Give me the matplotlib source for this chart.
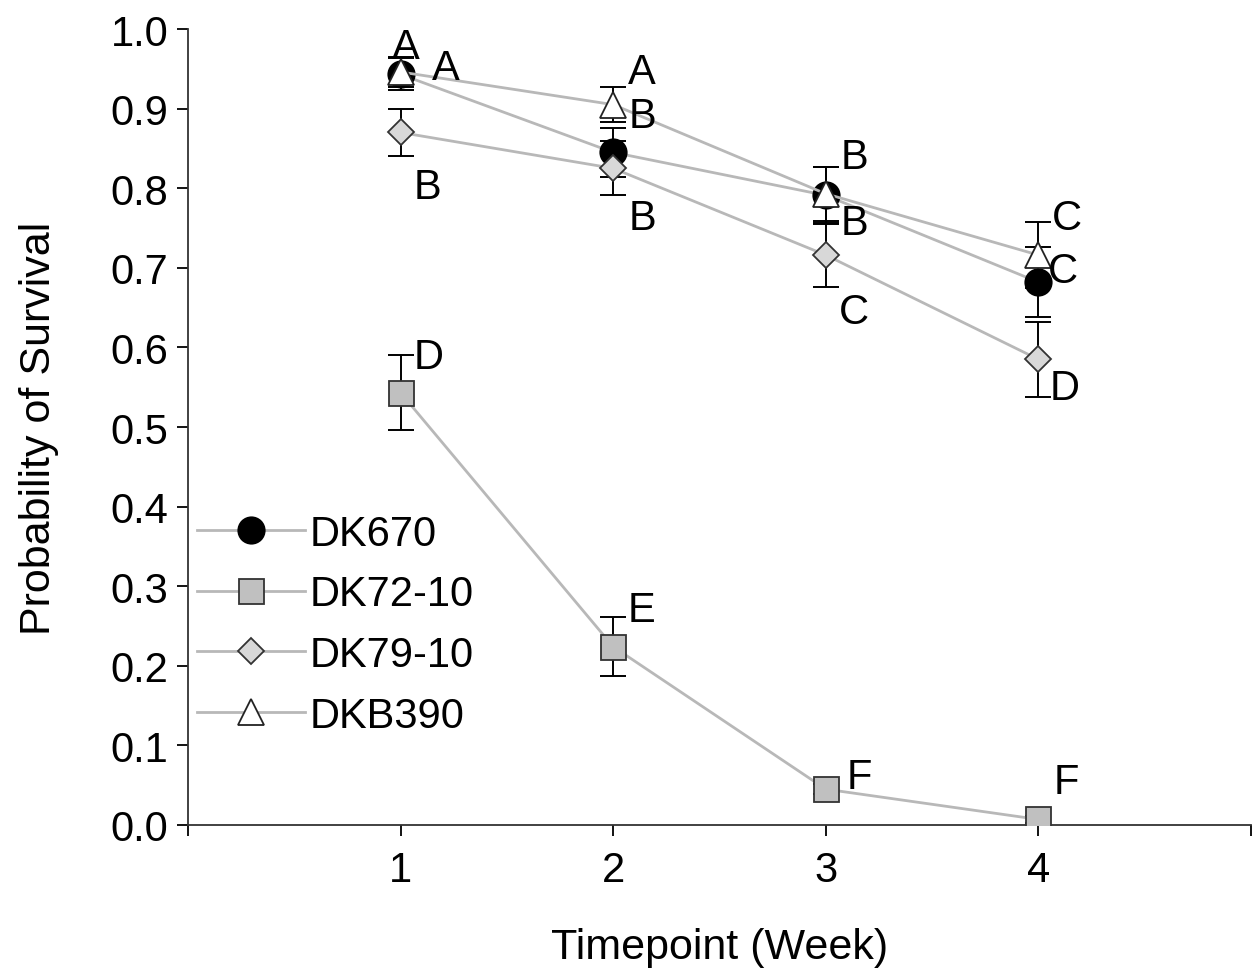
import matplotlib
matplotlib.use("Agg")
import matplotlib.pyplot as plt

plt.rcParams['font.family'] = ['Liberation Sans', 'DejaVu Sans']

weeks = [1, 2, 3, 4]
series_names = ["DK670", "DK72-10", "DK79-10", "DKB390"]
dk670 = [0.943, 0.845, 0.791, 0.682]
dk670_err = [0.020, 0.031, 0.036, 0.044]
dk72 = [0.543, 0.224, 0.045, 0.007]
dk72_err = [0.047, 0.037, 0.006, 0.004]
dk79 = [0.870, 0.825, 0.716, 0.585]
dk79_err = [0.029, 0.034, 0.040, 0.047]
dkb390 = [0.946, 0.905, 0.793, 0.716]
dkb390_err = [0.019, 0.022, 0.034, 0.041]

letters_670 = ["A", "B", "B", "C"]
letters_72 = ["D", "E", "F", "F"]
letters_79 = ["B", "B", "C", "D"]
letters_390 = ["A", "A", "B", "C"]

x_ticks = [1, 2, 3, 4]
y_ticks = [0.0, 0.1, 0.2, 0.3, 0.4, 0.5, 0.6, 0.7, 0.8, 0.9, 1.0]

# letter offsets in pixels (dx right, dy up)
off_670 = [(5, 27), (29, 36), (29, -28), (25, 11)]
off_72 = [(28, 36), (28, 37), (34, 12), (28, 37)]
off_79 = [(27, -55), (29, -50), (28, -57), (26, -29)]
off_390 = [(45, 4), (29, 33), (29, 37), (29, 37)]

line_col = "#b8b8b8"
styles = [
    dict(marker="o", mfc="black", mec="black", ms=19),
    dict(marker="s", mfc="#c0c0c0", mec="#333333", ms=18),
    dict(marker="D", mfc="#d8d8d8", mec="#333333", ms=13),
    dict(marker="^", mfc="white", mec="#222222", ms=19),
]
data = [(dk670, dk670_err, letters_670, off_670),
        (dk72, dk72_err, letters_72, off_72),
        (dk79, dk79_err, letters_79, off_79),
        (dkb390, dkb390_err, letters_390, off_390)]

fig = plt.figure(figsize=(12.58, 9.70), dpi=100)
ax = fig.add_axes([188/1258, 144/970, (1251-188)/1258, (826-30)/970])

fs = 30
handles = []
for name, (vals, errs, lets, offs), st in zip(series_names, data, styles):
    ax.errorbar(weeks, vals, yerr=errs, fmt='none', ecolor='black',
                elinewidth=1.4, capsize=9.5, capthick=1.4, zorder=3)
    h, = ax.plot(weeks, vals, color=line_col, lw=2, zorder=4,
                 mew=1.3, label=name, **st)
    handles.append(h)
    for w, v, l, (dx, dy) in zip(weeks, vals, lets, offs):
        ax.annotate(l, (w, v), xytext=(dx*0.72, dy*0.72), textcoords='offset points',
                    ha='center', va='center', fontsize=fs, zorder=5)

ax.set_xlim(0, 5)
ax.set_ylim(0, 1.0)
ax.set_xticks([0] + x_ticks + [5])
ax.set_xticklabels([""] + [str(t) for t in x_ticks] + [""])
ax.set_yticks(y_ticks)
ax.set_yticklabels([f"{t:.1f}" for t in y_ticks])
ax.tick_params(axis='both', labelsize=fs, length=8, width=1.3, direction='out')
ax.tick_params(axis='x', pad=10)
ax.tick_params(axis='y', pad=6)
for s in ['top', 'right']:
    ax.spines[s].set_visible(False)
for s in ['left', 'bottom']:
    ax.spines[s].set_linewidth(1.3)
    ax.spines[s].set_color('#333333')

ax.set_xlabel("Timepoint (Week)", fontsize=31, labelpad=27)
ax.set_ylabel("Probability of Survival", fontsize=31, labelpad=37)

leg = ax.legend(handles=handles, loc='upper left', bbox_to_anchor=(-0.0075, 0.412),
                frameon=False, fontsize=fs, handlelength=2.6, handletextpad=0.12,
                labelspacing=0.495, numpoints=1, borderaxespad=0.0)

fig.savefig("out.png", dpi=100)
